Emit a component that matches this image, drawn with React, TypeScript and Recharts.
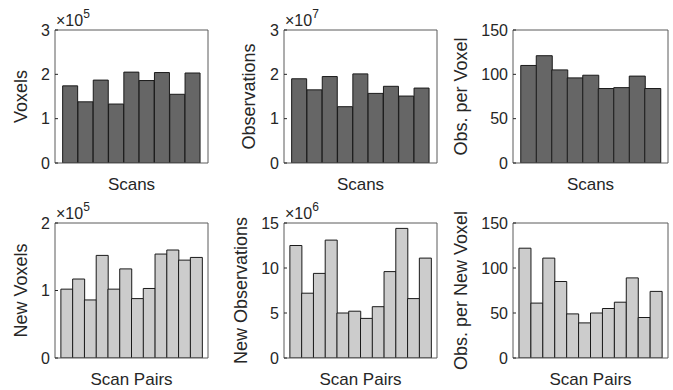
import { BarChart, Bar, XAxis, YAxis, Label } from 'recharts'

// categories
const SCANS = ['1', '2', '3', '4', '5', '6', '7', '8', '9']
const SCAN_PAIRS = ['1-2', '2-3', '3-4', '4-5', '5-6', '6-7', '7-8', '8-9', '9-10', '10-11', '11-12', '12-13']

// top row (per scan)
const VOXELS = [174000, 138000, 187000, 133000, 205000, 186000, 204000, 155000, 203000]
const OBSERVATIONS = [19000000, 16500000, 19500000, 12700000, 20100000, 15700000, 17300000, 15100000, 16900000]
const OBS_PER_VOXEL = [110, 121, 105, 96, 99, 84, 85, 98, 84]

// bottom row (per scan pair)
const NEW_VOXELS = [102000, 117000, 86000, 152000, 102000, 132000, 88000, 103000, 154000, 160000, 145000, 149000]
const NEW_OBSERVATIONS = [12500000, 7200000, 9400000, 13100000, 5000000, 5200000, 4400000, 5700000, 9600000, 14400000, 6600000, 11100000]
const OBS_PER_NEW_VOXEL = [122, 61, 111, 85, 49, 39, 50, 55, 62, 89, 45, 74]

// y ticks
const TICKS_VOXELS = [0, 100000, 200000, 300000]
const TICKS_OBS = [0, 10000000, 20000000, 30000000]
const TICKS_RATIO = [0, 50, 100, 150]
const TICKS_NEW_VOXELS = [0, 100000, 200000]
const TICKS_NEW_OBS = [0, 5000000, 10000000, 15000000]

const FONT = '"Liberation Sans", Arial, Helvetica, sans-serif'
const TEXT = '#262626'
const AXIS = '#5a5a5a'
const DARK_BAR = '#666666'
const LIGHT_BAR = '#cccccc'
const YW = 72 // left axis area width

interface PanelProps {
  categories: string[]
  values: number[]
  ticks: number[]
  exponent?: number
  yLabel: string
  xLabel: string
  fill: string
  left: number
  top: number
  w: number
  h: number
  yLabelGap: number
}

function Panel({ categories, values, ticks, exponent, yLabel, xLabel, fill, left, top, w, h, yLabelGap }: PanelProps) {
  const data = categories.map((c, i) => ({ name: c, value: values[i] }))
  const unit = w / (categories.length + 1)
  const pad = { left: unit / 2, right: unit / 2 }
  const yMax = ticks[ticks.length - 1]
  const scale = exponent ? Math.pow(10, exponent) : 1

  return (
    <div style={{ position: 'absolute', left: left - YW, top: top - 30 }}>
      <BarChart
        width={YW + w + 10}
        height={30 + h + 34}
        data={data}
        margin={{ top: 20, right: 5, bottom: 0, left: 0 }}
        barCategoryGap={0}
        barGap={0}
      >
        <XAxis
          xAxisId="b"
          dataKey="name"
          height={34}
          tick={false}
          tickLine={false}
          axisLine={{ stroke: AXIS }}
          padding={pad}
        >
          <Label
            content={(p: any) => {
              const vb = p.viewBox
              return (
                <text
                  x={vb.x + vb.width / 2}
                  y={vb.y + 27}
                  textAnchor="middle"
                  fontSize={17}
                  fontFamily={FONT}
                  fill={TEXT}
                >
                  {xLabel}
                </text>
              )
            }}
          />
        </XAxis>
        <XAxis
          xAxisId="t"
          orientation="top"
          dataKey="name"
          height={10}
          tick={false}
          tickSize={-3}
          tickLine={{ stroke: TEXT }}
          axisLine={{ stroke: AXIS }}
          padding={pad}
        />
        <YAxis
          yAxisId="l"
          width={YW}
          domain={[0, yMax]}
          ticks={ticks}
          allowDataOverflow
          interval={0}
          tickSize={-3}
          tickMargin={8}
          tickLine={{ stroke: TEXT }}
          axisLine={{ stroke: AXIS }}
          tickFormatter={(v: number) => String(Math.round((v / scale) * 100) / 100)}
          tick={{ fontSize: 16, fontFamily: FONT, fill: TEXT }}
        >
          <Label
            content={(p: any) => {
              const vb = p.viewBox
              const cx = vb.x + vb.width - yLabelGap
              const cy = vb.y + vb.height / 2
              return (
                <text
                  x={cx}
                  y={cy}
                  transform={`rotate(-90 ${cx} ${cy})`}
                  textAnchor="middle"
                  dominantBaseline="central"
                  fontSize={18}
                  fontFamily={FONT}
                  fill={TEXT}
                >
                  {yLabel}
                </text>
              )
            }}
          />
          {exponent ? (
            <Label
              content={(p: any) => {
                const vb = p.viewBox
                return (
                  <text x={vb.x + vb.width + 1} y={vb.y - 4} fontSize={16} fontFamily={FONT} fill={TEXT}>
                    ×10
                    <tspan fontSize={12} dy={-8}>
                      {exponent}
                    </tspan>
                  </text>
                )
              }}
            />
          ) : null}
        </YAxis>
        <YAxis
          yAxisId="r"
          orientation="right"
          width={5}
          domain={[0, yMax]}
          ticks={ticks}
          allowDataOverflow
          interval={0}
          tick={false}
          tickSize={-3}
          tickLine={{ stroke: TEXT }}
          axisLine={{ stroke: AXIS }}
        />
        <Bar
          xAxisId="b"
          yAxisId="l"
          dataKey="value"
          fill={fill}
          stroke="#1a1a1a"
          strokeWidth={1}
          isAnimationActive={false}
        />
      </BarChart>
    </div>
  )
}

export default function App() {
  return (
    <div style={{ position: 'absolute', left: 0, top: 0, width: 673, height: 390, background: '#fff', overflow: 'hidden' }}>
      <Panel categories={SCANS} values={VOXELS} ticks={TICKS_VOXELS} exponent={5} yLabel="Voxels" xLabel="Scans"
        fill={DARK_BAR} left={55} top={30} w={153} h={133} yLabelGap={34} />
      <Panel categories={SCANS} values={OBSERVATIONS} ticks={TICKS_OBS} exponent={7} yLabel="Observations" xLabel="Scans"
        fill={DARK_BAR} left={284} top={30} w={153} h={133} yLabelGap={35} />
      <Panel categories={SCANS} values={OBS_PER_VOXEL} ticks={TICKS_RATIO} yLabel="Obs. per Voxel" xLabel="Scans"
        fill={DARK_BAR} left={513} top={30} w={155} h={133} yLabelGap={52} />
      <Panel categories={SCAN_PAIRS} values={NEW_VOXELS} ticks={TICKS_NEW_VOXELS} exponent={5} yLabel="New Voxels" xLabel="Scan Pairs"
        fill={LIGHT_BAR} left={55} top={223} w={153} h={135} yLabelGap={34} />
      <Panel categories={SCAN_PAIRS} values={NEW_OBSERVATIONS} ticks={TICKS_NEW_OBS} exponent={6} yLabel="New Observations" xLabel="Scan Pairs"
        fill={LIGHT_BAR} left={284} top={223} w={153} h={135} yLabelGap={43} />
      <Panel categories={SCAN_PAIRS} values={OBS_PER_NEW_VOXEL} ticks={TICKS_RATIO} yLabel="Obs. per New Voxel" xLabel="Scan Pairs"
        fill={LIGHT_BAR} left={513} top={223} w={155} h={135} yLabelGap={52} />
    </div>
  )
}
